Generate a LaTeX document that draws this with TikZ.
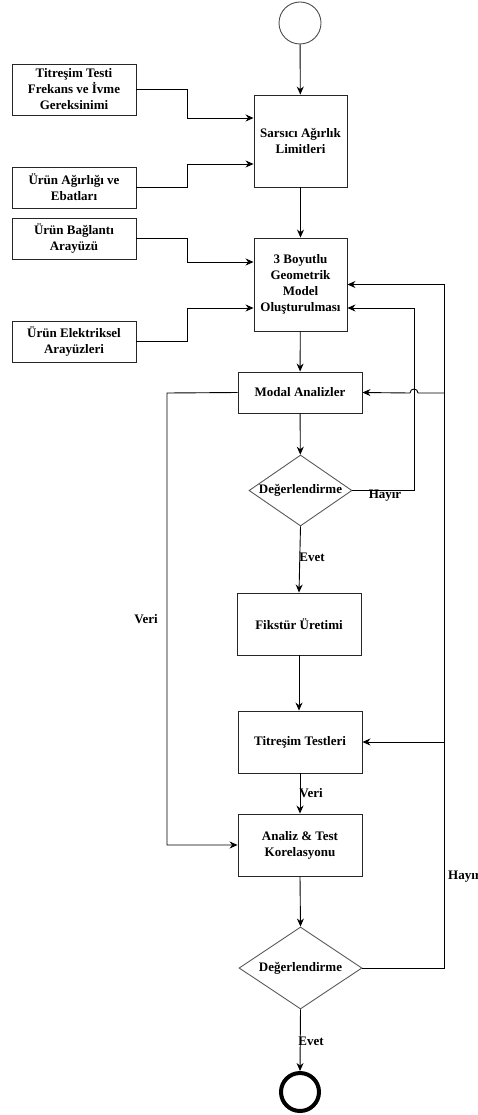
\documentclass[tikz,border=0pt]{standalone}
\usepackage{fontspec}
\setmainfont{Liberation Serif}
\usetikzlibrary{shapes.geometric,arrows.meta,calc}
\begin{document}
\begin{tikzpicture}[x=1pt,y=-1pt,
  font=\fontsize{13}{16}\selectfont\bfseries,
  box/.style={draw=black!85,line width=0.9pt,rectangle,inner sep=2pt,align=center},
  dia/.style={draw=black!65,line width=0.9pt,diamond,inner sep=0pt,minimum width=#1},
  arr/.style={draw=black,line width=0.9pt,-{Stealth[length=8pt,width=7pt]}},
  ln/.style={draw=black,line width=0.9pt},
  lbl/.style={inner sep=1pt}]
\useasboundingbox (0,0) rectangle (477,1115);
% nodes
\node[draw=black!70,line width=0.9pt,circle,minimum size=42pt,inner sep=0pt] (start) at (300,23) {};
\node[box,minimum width=93pt,minimum height=92pt] (sars) at (300.5,141) {Sarsıcı Ağırlık\\Limitleri};
\node[box,minimum width=124pt,minimum height=51pt] (in1) at (74,89.5) {Titreşim Testi\\Frekans ve İvme\\Gereksinimi};
\node[box,minimum width=124pt,minimum height=41pt] (in2) at (74,187.5) {Ürün Ağırlığı ve\\Ebatları};
\node[box,minimum width=93pt,minimum height=93pt] (geo) at (300.5,284.5) {3 Boyutlu\\Geometrik\\Model\\Oluşturulması};
\node[box,minimum width=124pt,minimum height=41pt] (in3) at (74,238.5) {Ürün Bağlantı\\Arayüzü};
\node[box,minimum width=124pt,minimum height=41pt] (in4) at (74,341.5) {Ürün Elektriksel\\Arayüzleri};
\node[box,minimum width=124pt,minimum height=41pt] (modal) at (300,392.5) {Modal Analizler};
\node[dia=103pt,minimum height=71pt,label=center:Değerlendirme] (d1) at (300.5,490.5) {};
\node[box,minimum width=124pt,minimum height=62pt] (fik) at (299,624) {Fikstür Üretimi};
\node[box,minimum width=124pt,minimum height=62pt] (tit) at (300,742) {Titreşim Testleri};
\node[box,minimum width=124pt,minimum height=62pt] (ana) at (300,845) {Analiz \& Test\\Korelasyonu};
\node[dia=123pt,minimum height=82pt,label=center:Değerlendirme] (d2) at (300.5,968) {};
\node[draw=black,line width=4pt,circle,minimum size=38pt,inner sep=0pt] (end) at (300,1092) {};
% helper coordinates
\coordinate (c1) at (187,89.5);
\coordinate (c2) at (187,187.5);
\coordinate (c3) at (187,238.5);
\coordinate (c4) at (187,341.5);
\coordinate (r1) at (414,490.5);
\coordinate (r2) at (444,968);
\coordinate (b1) at (444,742);
\coordinate (b2) at (444,393);
\coordinate (hopR) at (418,393);
\coordinate (hopL) at (410,393);
\coordinate (l1) at (167,393);
% connectors
\draw[arr] (start) -- (sars);
\draw[arr] (in1.east) -- (c1) |- ([yshift=23pt]sars.west);
\draw[arr] (in2.east) -- (c2) |- ([yshift=-23pt]sars.west);
\draw[arr] (sars) -- (geo);
\draw[arr] (in3.east) -- (c3) |- ([yshift=22.5pt]geo.west);
\draw[arr] (in4.east) -- (c4) |- ([yshift=-23.5pt]geo.west);
\draw[arr] (geo) -- (modal);
\draw[arr] (modal) -- (d1);
\draw[arr] (d1.east) -- (r1) |- ([yshift=-23.5pt]geo.east);
\draw[arr] (d1.south) -- (fik.north);
\draw[arr] (fik.south) -- (fik.south |- tit.north);
\draw[arr] (tit) -- (ana);
\draw[arr] (ana.south) -- (d2.north);
\draw[arr] (d2.east) -- (r2) |- (geo.east);
\draw[arr] (b1) -- (tit.east);
\draw[ln] (b2) -- (hopR) to[out=90,in=90,looseness=1.7] (hopL);
\draw[arr] (hopL) -- (modal.east);
\draw[arr] (modal.west) -- (l1) |- (ana.west);
\draw[arr] (d2.south) -- (end.north);
% labels
\node[lbl] (hayir1) at (385,496) {Hayır};
\node[lbl] (evet1) at (312,557) {Evet};
\node[lbl] (veri1) at (146,619) {Veri};
\node[lbl] (veri2) at (311,793) {Veri};
\node[lbl,anchor=west] (hayir2) at (447,877) {Hayır};
\node[lbl] (evet2) at (311,1041) {Evet};
\end{tikzpicture}
\end{document}
